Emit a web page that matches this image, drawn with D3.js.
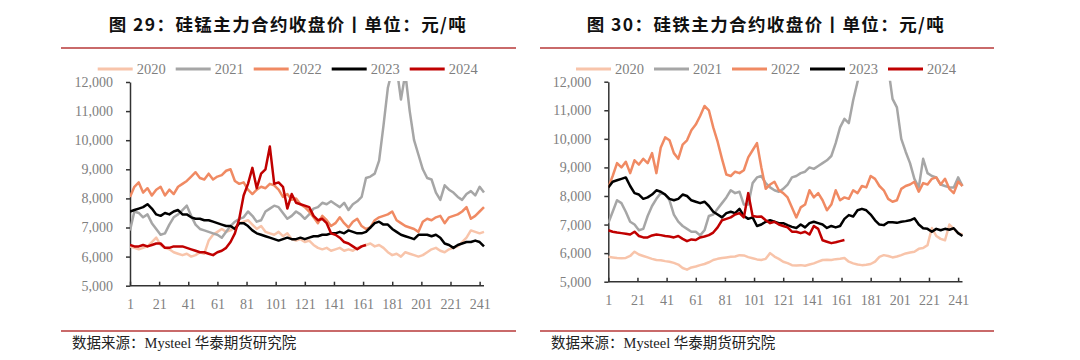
<!DOCTYPE html>
<html><head><meta charset="utf-8">
<script src="https://cdn.jsdelivr.net/npm/d3@7"></script>
<style>
html,body{margin:0;padding:0;background:#fff;}
svg{display:block;}
</style></head>
<body>
<svg id="chart" width="1080" height="360"></svg>
<script>
// ---------- DATA ----------
const days = [1,4,7,10,13,16,19,22,25,28,31,34,37,40,43,46,49,52,55,58,61,64,67,70,73,76,79,82,85,88,91,94,97,100,103,106,109,112,115,118,121,124,127,130,133,136,139,142,145,148,151,154,157,160,163,166,169,172,175,178,181,184,187,190,193,196,199,202,205,208,211,214,217,220,223,226,229,232,235,238,241,244];
const xTicks = [1,21,41,61,81,101,121,141,161,181,201,221,241];
const yTicks = [5000,6000,7000,8000,9000,10000,11000,12000];
const years = ["2020","2021","2022","2023","2024"];

// 硅锰 (left)
const simn2020 = [6350,6300,6250,6300,6350,6500,6650,6400,6300,6250,6150,6100,6050,6100,6000,6050,6150,6100,6550,6750,6850,6950,6850,6900,7000,7150,7200,7250,7100,6950,7050,6850,6800,6750,6850,6700,6800,6600,6550,6600,6500,6550,6400,6300,6250,6300,6200,6250,6300,6200,6250,6200,6300,6350,6400,6450,6350,6400,6300,6150,6050,6100,6000,6150,6100,6050,6000,6050,6150,6250,6300,6200,6150,6250,6300,6350,6500,6650,6900,6850,6800,6850];
const simn2021 = [6900,7550,7500,7350,7450,7150,6950,6750,6800,7100,7350,7450,7600,7750,7400,7100,6950,6900,6850,6800,6750,6650,6850,7050,7200,7300,7350,7550,7400,7200,7250,7550,7650,7750,7700,7500,7300,7400,7550,7450,7300,7450,7650,7700,7850,7800,7900,7800,7700,7850,7600,7800,7900,8050,8700,8750,8850,9300,10500,11800,12400,12500,11400,12300,11000,10000,9500,9000,8700,8650,8200,7950,8450,8300,8200,8050,7950,8150,8250,8100,8400,8200];
const simn2022 = [8050,8400,8550,8200,8350,8100,8300,8400,8100,8300,8150,8400,8500,8600,8750,8900,8700,8650,8850,8650,8750,8800,8950,9000,8600,8500,8550,8300,8150,8300,8400,8350,8500,8450,8300,8050,8150,7950,8000,7800,7700,7550,7350,7150,7400,7250,7050,7150,7350,7150,7000,7200,7300,7050,6950,7000,7250,7350,7400,7450,7550,7250,7150,7050,7000,6950,6850,7200,7300,7250,7350,7400,7150,7350,7400,7450,7550,7700,7300,7400,7550,7700];
const simn2023 = [7550,7600,7650,7700,7800,7650,7450,7400,7500,7450,7550,7600,7450,7450,7350,7300,7300,7250,7250,7200,7150,7100,7050,7050,6950,7150,7150,7050,6900,6800,6750,6700,6650,6600,6550,6600,6650,6600,6600,6650,6600,6650,6700,6700,6750,6750,6800,6800,6850,6800,6900,6850,6800,6800,6850,7000,7150,7200,7100,7100,6950,6850,6750,6700,6650,6600,6750,6750,6750,6700,6750,6650,6450,6400,6300,6400,6450,6500,6500,6550,6500,6350];
const simn2024 = [6400,6350,6350,6400,6350,6400,6450,6450,6300,6300,6350,6350,6350,6300,6250,6200,6150,6150,6100,6050,6150,6200,6300,6500,6800,7300,8100,8500,9050,8350,8850,9000,9780,8500,8550,8400,7650,8150,7850,7800,7750,7700,7400,7250,7300,7150,6800,6750,6650,6500,6450,6350,6250,6350,6400];

// 硅铁 (right)
const fesi2020 = [5870,5850,5830,5820,5830,5900,6050,5950,5900,5850,5800,5760,5750,5720,5700,5660,5600,5480,5420,5500,5530,5580,5620,5680,5760,5800,5830,5850,5870,5880,5930,5920,5860,5820,5780,5760,5800,6000,5880,5800,5700,5650,5580,5570,5580,5560,5600,5640,5700,5760,5770,5760,5790,5800,5830,5700,5640,5600,5580,5590,5620,5700,5870,5930,5900,5850,5880,5930,5990,6020,6050,6150,6180,6280,6880,6600,6500,6450,7000,6850,6700,6650];
const fesi2021 = [7050,7450,7850,7750,7450,7100,7000,6800,6850,7300,7650,7900,8100,8050,7850,7350,7100,6950,6850,6750,6750,6620,6800,7300,7350,7550,7750,7950,8200,8100,8150,7700,7700,8450,8650,8700,8450,8300,8200,8150,8250,8400,8650,8700,8800,8850,9000,8950,9050,9150,9250,9400,9850,10400,10700,10550,11350,12000,12500,13000,13200,13200,13000,12800,12500,11400,11100,10000,9550,9150,8600,8300,9300,8800,8700,8650,8400,8350,8300,8300,8650,8350];
const fesi2022 = [8300,8700,9150,9000,9200,8800,9250,9100,9300,9150,9500,8800,9700,10050,9950,9500,9300,9800,9950,10300,10500,10800,11150,11000,10400,9900,9300,8750,8700,8850,8800,8900,9350,9600,9850,9000,8250,8400,8500,8200,8100,7950,7600,7250,7600,7700,8200,7950,8100,7850,7500,7700,8200,7850,7950,7900,8200,8100,8350,8300,8700,8600,8350,8200,7900,7800,7850,8250,8350,8400,8500,8150,8450,8400,8600,8650,8400,8600,8250,8100,8500,8350];
const fesi2023 = [8300,8500,8550,8600,8650,8350,8100,8050,7900,7950,8050,8200,8150,8050,7900,7850,7900,8050,8000,7850,7800,7750,7800,7650,7450,7350,7250,7400,7450,7400,7550,7300,7200,7250,6950,7000,7100,7150,7100,7050,7050,6980,6920,6880,7000,6900,7050,7100,7050,7000,6880,6950,6900,6950,7200,7330,7280,7500,7550,7500,7350,7150,7000,6980,7080,7080,7060,7100,7120,7150,7220,7000,6870,6850,6750,6850,6800,6850,6820,6870,6700,6600];
const fesi2024 = [6800,6750,6720,6700,6680,6650,6750,6600,6550,6550,6620,6650,6630,6600,6580,6550,6600,6500,6420,6480,6460,6550,6580,6630,6720,6900,7150,7200,7250,7350,7400,7250,8100,7300,7270,7280,7150,7050,7100,7000,6950,6900,6750,6750,6700,6750,6650,6950,6850,6450,6400,6350,6380,6420,6460];

// ---------- STYLE ----------
const colors = ["#f8c4aa","#a6a6a6","#f08a63","#000000","#c00000"];
const serif = "'Liberation Serif','Times New Roman','Noto Sans CJK SC',serif";
const cjk = "'Noto Sans CJK SC','Noto Sans',sans-serif";

const svg = d3.select("#chart");

function panel(cfg) {
  const g = svg.append("g");
  // title
  g.append("text").attr("x", cfg.titleX).attr("y", 31)
    .attr("text-anchor","middle").attr("font-family", cjk)
    .attr("font-weight","700").attr("font-size","17.5px").attr("fill","#111")
    .attr("letter-spacing","1.4px").style("white-space","pre")
    .text(cfg.title);
  // rules
  g.append("line").attr("x1",cfg.ruleX0).attr("x2",cfg.ruleX1).attr("y1",48).attr("y2",48)
    .attr("stroke","#c96a6a").attr("stroke-width",2);
  g.append("line").attr("x1",cfg.ruleX0).attr("x2",cfg.ruleX1).attr("y1",331).attr("y2",331)
    .attr("stroke","#c96a6a").attr("stroke-width",2);
  g.append("text").attr("x", cfg.ruleX0+11).attr("y", 348)
    .attr("font-family", serif).attr("font-size","14.5px").attr("fill","#222")
    .text("数据来源：Mysteel 华泰期货研究院");

  const x = d3.scaleLinear().domain([1,244]).range([cfg.x0, cfg.x1]);
  const y = d3.scaleLinear().domain([5000,12000]).range([cfg.y0, cfg.y1]);

  // legend
  const lg = g.append("g");
  years.forEach((yr,i)=>{
    const lx = cfg.legX + i*78;
    lg.append("line").attr("x1",lx).attr("x2",lx+35).attr("y1",69).attr("y2",69)
      .attr("stroke",colors[i]).attr("stroke-width",3);
    lg.append("text").attr("x",lx+39).attr("y",74)
      .attr("font-family",serif).attr("font-size","14.5px").attr("fill","#7f7f7f").text(yr);
  });

  // axes
  const ya = g.append("g").attr("transform",`translate(${cfg.x0},0)`)
    .call(d3.axisLeft(y).tickValues(yTicks).tickFormat(d3.format(",")).tickSize(4).tickSizeOuter(0).tickPadding(13));
  const xa = g.append("g").attr("transform",`translate(0,${cfg.y0})`)
    .call(d3.axisBottom(x).tickValues(xTicks).tickFormat(d=>d).tickSize(-4).tickSizeOuter(0).tickPadding(13));
  [ya,xa].forEach(a=>{
    a.selectAll("path.domain").attr("stroke","#333").attr("stroke-width",1.5);
    a.selectAll(".tick line").attr("stroke","#333").attr("stroke-width",1.5);
    a.selectAll("text").attr("font-family",serif).attr("font-size","14px").attr("fill","#808080");
  });
  xa.select("path.domain").attr("d", `M${cfg.x0},0H${cfg.x1}`);

  // clip
  const cid = "clip"+cfg.id;
  svg.append("defs").append("clipPath").attr("id",cid)
    .append("rect").attr("x",cfg.x0).attr("y",cfg.y1-1).attr("width",cfg.x1-cfg.x0+4).attr("height",cfg.y0-cfg.y1+1);

  const line = d3.line().x((d,i)=>x(days[i])).y(d=>y(d));
  const lines = g.append("g").attr("clip-path",`url(#${cid})`);
  cfg.series.forEach((s,i)=>{
    lines.append("path").attr("d",line(s)).attr("fill","none")
      .attr("stroke",colors[i]).attr("stroke-width",2.5).attr("stroke-linejoin","round");
  });
}

panel({id:"L", title:"图 29：硅锰主力合约收盘价丨单位：元/吨", titleX:288,
  ruleX0:61, ruleX1:516, x0:130, x1:484, y0:285.7, y1:82, legX:97.7,
  series:[simn2020,simn2021,simn2022,simn2023,simn2024]});
panel({id:"R", title:"图 30：硅铁主力合约收盘价丨单位：元/吨", titleX:766,
  ruleX0:540, ruleX1:994, x0:608.3, x1:962.5, y0:281.7, y1:81.7, legX:576,
  series:[fesi2020,fesi2021,fesi2022,fesi2023,fesi2024]});
</script>
</body></html>
